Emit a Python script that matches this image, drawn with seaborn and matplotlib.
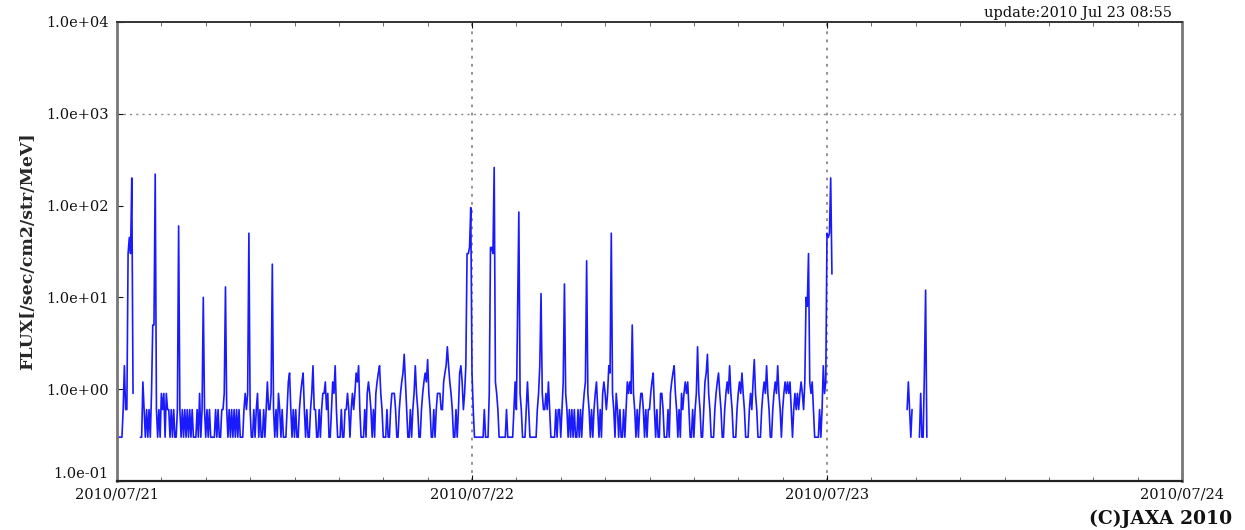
import numpy as np
import pandas as pd
import matplotlib
matplotlib.use("Agg")
import matplotlib.pyplot as plt
import matplotlib.dates as mdates
from matplotlib.ticker import FuncFormatter, NullLocator
import seaborn as sns

# ---- data: flux level codes, one 12-char string per hour (5-minute steps) ----
# code -> flux value [/sec/cm2/str/MeV]; '.' = no data
level_codes = {
    '1': 0.3, '2': 0.6, '3': 0.9, '4': 1.2, '5': 1.5, '6': 1.8, '7': 2.1,
    '8': 2.4, '9': 2.9, 'A': 5.0, 'B': 10.0, 'C': 12.0, 'D': 14.0, 'E': 25.0,
    'F': 30.0, 'G': 45.0, 'H': 50.0, 'I': 60.0, 'J': 85.0, 'K': 95.0,
    'L': 200.0, 'M': 220.0, 'N': 260.0, 'P': 35.0, 'Q': 23.0, 'R': 18.0,
    'S': 11.0, 'T': 13.0, 'V': 8.0,
}

day1_hours = [
    "111112622FGF", "L3.....11421", "21213AAM2121", "323132212121",
    "12I212121212", "1211121312B2", "121211112121", "1223T2121212",
    "12121112323H", "211212312112", "124223Q21213", "212111245212",
    "121123452121", "123622112123", "342311243621", "112112232123",
    "235462111213", "432121345632", "111211233321", "123458421121",
    "236321123454", "732112123332", "245696432112", "12564236FFPK",
]
day2_hours = [
    "521111111121", "113PPFN43211", "111121111124", "2VJ321112421",
    "11111236S322", "324211112122", "124D32121212", "112121234E32",
    "121234212134", "32365H321321", "2112124343A3", "212123321212",
    "234521211332", "111213456321", "213234342112", "123932112458",
    "321112345321", "123436321112", "343532111232", "473211123436",
    "321123436321", "234343421232", "3234324BVF43", "421111212634",
]
day3_hours = [
    "HGHLR.......", "............", "............", "............",
    "............", ".....24212..", "...13115C1..",
]

start_time = pd.Timestamp("2010-07-21 00:00")
step_minutes = 5
x_ticks = pd.to_datetime(["2010-07-21", "2010-07-22", "2010-07-23", "2010-07-24"])
y_ticks = [1e-1, 1e0, 1e1, 1e2, 1e3, 1e4]

# ---- build table ----
codes = "".join(day1_hours + day2_hours + day3_hours)
times = [start_time + pd.Timedelta(minutes=step_minutes * i) for i in range(len(codes))]
flux = [level_codes.get(c, np.nan) for c in codes]
df = pd.DataFrame({"time": times, "flux": flux})
df["segment"] = df["flux"].isna().cumsum()
df = df.dropna()

# ---- style ----
sns.set_style("white")
plt.rcParams["font.family"] = ["DejaVu Serif"]

fig = plt.figure(figsize=(12.45, 5.30), dpi=100)
ax = fig.add_axes([117 / 1245, 1 - 481 / 530, (1182 - 117) / 1245, (481 - 22) / 530])

sns.lineplot(data=df, x="time", y="flux", units="segment", estimator=None,
             color="#1a1aff", lw=1.2, ax=ax, legend=False)

ax.set_yscale("log")
ax.set_ylim(1e-1, 1e4)
ax.set_xlim(x_ticks[0], x_ticks[-1])

ax.set_yticks(y_ticks)
ax.yaxis.set_major_formatter(FuncFormatter(lambda v, p: f"{v:.1e}"))
ax.yaxis.set_minor_locator(NullLocator())

ax.set_xticks(x_ticks)
ax.xaxis.set_major_formatter(mdates.DateFormatter("%Y/%m/%d"))
ax.xaxis.set_minor_locator(mdates.HourLocator(byhour=range(0, 24, 3)))

ax.tick_params(axis="both", which="both", direction="in", top=True, left=True,
               bottom=True, right=False, color="#555555")
ax.tick_params(axis="both", which="major", length=4, width=0.8, labelsize=10.5,
               colors="#111111")
ax.tick_params(axis="y", which="major", pad=6)
ax.tick_params(axis="x", which="major", pad=5)
ax.tick_params(axis="x", which="minor", length=3, width=0.6)

# dotted reference grid lines
ax.axhline(1e3, ls=(0, (1.5, 3)), color="#888888", lw=1.0, zorder=0)
for d in x_ticks[1:3]:
    ax.axvline(d, ls=(0, (1.5, 3)), color="#888888", lw=1.3, zorder=0)

for side, col, lw in [("left", "#777777", 2.0), ("right", "#777777", 2.0),
                      ("top", "#333333", 1.4), ("bottom", "#222222", 1.6)]:
    ax.spines[side].set_color(col)
    ax.spines[side].set_linewidth(lw)
    ax.spines[side].set_visible(True)

ax.set_xlabel("")
ax.set_ylabel("FLUX[/sec/cm2/str/MeV]", fontsize=12.5, fontweight="bold",
              labelpad=7)

fig.canvas.draw()
for lab in ax.get_yticklabels():
    if lab.get_text() == "1.0e-01":
        lab.set_va("bottom")

fig.text(1172 / 1245, 1 - 17 / 530, "update:2010 Jul 23 08:55", ha="right",
         va="baseline", fontsize=10.5, color="#111111")
fig.text(1232 / 1245, 1 - 524 / 530, "(C)JAXA 2010", ha="right", va="baseline",
         fontsize=13.5, fontweight="bold", color="#111111")

fig.savefig("out.png", dpi=100, facecolor="white")
